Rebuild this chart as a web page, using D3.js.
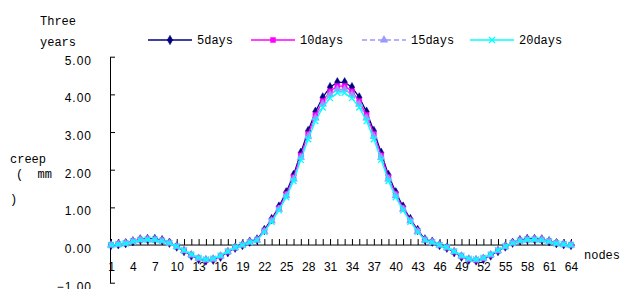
<!DOCTYPE html>
<html>
<head>
<meta charset="utf-8">
<script src="https://cdn.jsdelivr.net/npm/d3@7"></script>
<style>
  body { margin: 0; background: #fff; }
  svg { display: block; }
  text { font-family: "Liberation Mono", "DejaVu Sans Mono", monospace; fill: #000; }
</style>
</head>
<body>
<svg></svg>
<script>
var width = 621;
var height = 289;

// nodes 1..64
var nodes = d3.range(1, 65);
var seriesNames = ["5days", "10days", "15days", "20days"];

var days5 = [0.00,0.02,0.05,0.10,0.15,0.16,0.16,0.13,0.06,-0.04,-0.16,-0.28,-0.37,-0.41,-0.39,-0.31,
  -0.19,-0.07,0.00,0.09,0.15,0.40,0.69,1.02,1.40,1.86,2.45,3.03,3.54,3.92,4.19,4.32,
  4.32,4.19,3.92,3.54,3.03,2.45,1.86,1.40,1.02,0.69,0.40,0.15,0.09,0.00,-0.07,-0.19,
  -0.31,-0.39,-0.41,-0.37,-0.28,-0.16,-0.04,0.06,0.13,0.16,0.16,0.15,0.10,0.05,0.02,0.00];
var days10 = [0.00,0.02,0.05,0.10,0.14,0.15,0.15,0.12,0.06,-0.04,-0.15,-0.27,-0.36,-0.40,-0.38,-0.30,
  -0.18,-0.07,0.00,0.08,0.14,0.38,0.66,0.98,1.35,1.80,2.38,2.95,3.45,3.82,4.08,4.22,
  4.22,4.08,3.82,3.45,2.95,2.38,1.80,1.35,0.98,0.66,0.38,0.14,0.08,0.00,-0.07,-0.18,
  -0.30,-0.38,-0.40,-0.36,-0.27,-0.15,-0.04,0.06,0.12,0.15,0.15,0.14,0.10,0.05,0.02,0.00];
var days15 = [0.00,0.02,0.05,0.10,0.14,0.15,0.14,0.11,0.05,-0.04,-0.15,-0.26,-0.35,-0.39,-0.37,-0.29,
  -0.17,-0.07,0.00,0.08,0.13,0.36,0.64,0.95,1.31,1.75,2.32,2.88,3.37,3.74,3.99,4.13,
  4.13,3.99,3.74,3.37,2.88,2.32,1.75,1.31,0.95,0.64,0.36,0.13,0.08,0.00,-0.07,-0.17,
  -0.29,-0.37,-0.39,-0.35,-0.26,-0.15,-0.04,0.05,0.11,0.14,0.15,0.14,0.10,0.05,0.02,0.00];
var days20 = [0.00,0.02,0.04,0.09,0.13,0.14,0.14,0.11,0.05,-0.04,-0.14,-0.25,-0.34,-0.38,-0.36,-0.28,
  -0.17,-0.06,0.00,0.07,0.13,0.35,0.62,0.92,1.27,1.70,2.26,2.81,3.29,3.65,3.90,4.04,
  4.04,3.90,3.65,3.29,2.81,2.26,1.70,1.27,0.92,0.62,0.35,0.13,0.07,0.00,-0.06,-0.17,
  -0.28,-0.36,-0.38,-0.34,-0.25,-0.14,-0.04,0.05,0.11,0.14,0.14,0.13,0.09,0.04,0.02,0.00];

var yTicks = [-1, 0, 1, 2, 3, 4, 5];

var timesSymbol = d3.symbolTimes || {
  draw: function(ctx, size) {
    var r = Math.sqrt(size) / 2;
    ctx.moveTo(-r, -r); ctx.lineTo(r, r);
    ctx.moveTo(r, -r); ctx.lineTo(-r, r);
  }
};

var series = [
  { name: "5days",  values: days5,  color: "#000080", dash: null,  symbol: d3.symbolDiamond,  size: 26, fill: true },
  { name: "10days", values: days10, color: "#ff00ff", dash: null,  symbol: d3.symbolSquare,   size: 25, fill: true },
  { name: "15days", values: days15, color: "#9999ff", dash: "5,3", symbol: d3.symbolTriangle, size: 25, fill: true },
  { name: "20days", values: days20, color: "#00ffff", dash: null,  symbol: timesSymbol,       size: 25, fill: false }
];

var svg = d3.select("svg")
    .attr("width", width)
    .attr("height", height);

var x = d3.scalePoint()
    .domain(nodes)
    .range([111, 571]);

var y = d3.scaleLinear()
    .domain([-1, 5])
    .range([282.7, 56.7]);

// x axis sits on the zero line, ticks pointing up
var xAxis = svg.append("g")
    .attr("transform", `translate(0, ${y(0)})`)
    .call(d3.axisBottom(x)
      .tickSizeInner(-6)
      .tickSizeOuter(0)
      .tickPadding(17)
      .tickFormat(d => (d - 1) % 3 === 0 ? d : ""));

xAxis.select(".domain").attr("d", `M110,0H575`).attr("stroke", "#000");
xAxis.selectAll("line").attr("stroke", "#000");
xAxis.selectAll("text")
    .style("font-family", "'Liberation Sans', Arial, sans-serif")
    .style("font-size", "12px");

var yAxis = svg.append("g")
    .attr("transform", "translate(110, 0)")
    .call(d3.axisLeft(y)
      .tickValues(yTicks)
      .tickSizeInner(-5)
      .tickSizeOuter(0)
      .tickPadding(18)
      .tickFormat(d3.format(".2f")));

yAxis.select(".domain").attr("stroke", "#000");
yAxis.selectAll("line").attr("stroke", "#000");
yAxis.selectAll("text")
    .attr("dy", "0.62em")
    .style("font-family", "'Liberation Sans', Arial, sans-serif")
    .style("font-size", "12px")
    .style("letter-spacing", "1px");

// lines and markers
var line = d3.line()
    .x((d, i) => x(nodes[i]))
    .y(d => y(d));

var plot = svg.append("g");

series.forEach(function(s) {
  var g = plot.append("g");
  g.append("path")
      .attr("d", line(s.values))
      .attr("fill", "none")
      .attr("stroke", s.color)
      .attr("stroke-width", 1.3)
      .attr("stroke-dasharray", s.dash);
  g.selectAll("path.mark")
    .data(s.values)
    .enter()
    .append("path")
      .classed("mark", true)
      .attr("transform", (d, i) => `translate(${x(nodes[i])}, ${y(d)})`)
      .attr("d", d3.symbol().type(s.symbol).size(s.size))
      .attr("fill", s.fill ? s.color : "none")
      .attr("stroke", s.color)
      .attr("stroke-width", s.fill ? 0.5 : 1.3);
});

// legend
var legendX = [148, 251, 362, 470];
var legend = svg.append("g");

series.forEach(function(s, i) {
  var lx = legendX[i];
  legend.append("line")
      .attr("x1", lx)
      .attr("x2", lx + 44)
      .attr("y1", 40)
      .attr("y2", 40)
      .attr("stroke", s.color)
      .attr("stroke-width", 1.5)
      .attr("stroke-dasharray", s.dash);
  legend.append("path")
      .attr("transform", `translate(${lx + 22}, 40)`)
      .attr("d", d3.symbol().type(s.symbol).size(s.size))
      .attr("fill", s.fill ? s.color : "none")
      .attr("stroke", s.color)
      .attr("stroke-width", s.fill ? 0.5 : 1.3);
  legend.append("text")
      .attr("x", lx + 49)
      .attr("y", 44)
      .style("font-size", "12px")
      .text(s.name);
});

// axis titles
var titles = [
  { text: "Three", x: 40, y: 25 },
  { text: "years", x: 40, y: 46 },
  { text: "creep", x: 10, y: 163 },
  { text: "(  mm", x: 16, y: 178 },
  { text: ")", x: 10, y: 203 },
  { text: "nodes", x: 584, y: 259 }
];

svg.append("g")
  .selectAll("text")
  .data(titles)
  .enter()
  .append("text")
    .attr("x", d => d.x)
    .attr("y", d => d.y)
    .style("font-size", "12px")
    .style("white-space", "pre")
    .text(d => d.text);
</script>
</body>
</html>
